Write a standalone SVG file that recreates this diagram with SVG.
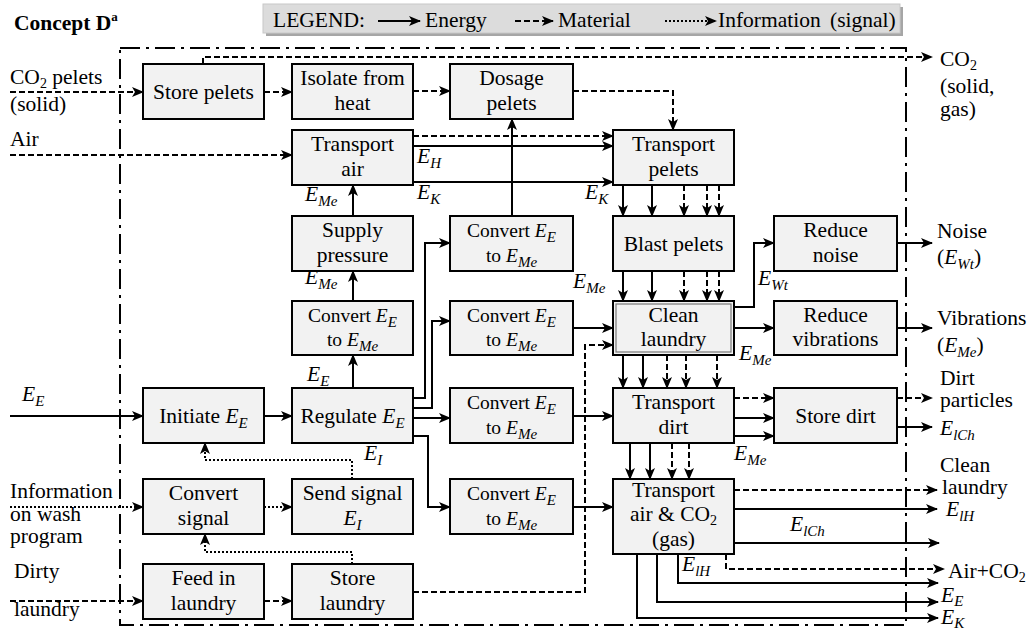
<svg xmlns="http://www.w3.org/2000/svg" width="1029" height="630" viewBox="0 0 1029 630" font-family="'Liberation Serif', serif">
<defs>
<style>
.box{fill:#f2f2f2;stroke:#000;stroke-width:2}
.t{font-size:21.5px;fill:#000}
.c{text-anchor:middle}
.cv{font-size:19.5px}
.m{font-style:italic}
.s{font-style:italic;font-size:15px}
.sb{font-size:14px}
.e{fill:none;stroke:#000;stroke-width:2;marker-end:url(#ah)}
.d{stroke-dasharray:6 3}
.i{stroke-dasharray:2 2}
.bd{fill:none;stroke:#000;stroke-width:2;stroke-dasharray:20 6 3 6}
</style>
<marker id="ah" markerUnits="userSpaceOnUse" markerWidth="14" markerHeight="12" refX="11" refY="5" orient="auto">
<path d="M0,0 L12,5 L0,10 L3,5 z" fill="#000" stroke="none"/>
</marker>
</defs>
<rect width="1029" height="630" fill="#fff"/>

<text class="t" x="14" y="30" font-weight="bold">Concept D<tspan font-size="13" dy="-9" font-weight="bold">a</tspan></text>
<g id="legend">
<rect x="266" y="7" width="637" height="29" fill="#a6a6a6"/>
<rect x="263" y="4" width="637" height="29" fill="#dcdcdc" stroke="#c8c8c8"/>
<text class="t" x="273" y="27">LEGEND:</text>
<path class="e" d="M378,21 H420"/>
<text class="t" x="425" y="27">Energy</text>
<path class="e d" d="M515,21 H553"/>
<text class="t" x="558" y="27">Material</text>
<path class="e i" d="M665,21 H716"/>
<text class="t" x="718" y="27" word-spacing="4">Information (signal)</text>
</g>

<rect class="bd" x="120" y="48" width="786" height="577"/>

<g id="connectors">
<path class="e d" d="M10,92 H143"/>
<path class="e d" d="M264,92 H292"/>
<path class="e d" d="M203,64 V57 H932"/>
<path class="e d" d="M413,91 H450"/>
<path class="e d" d="M573,91 H673 V130"/>
<path class="e d" d="M10,155 H292"/>
<path class="e d" d="M413,136 H613"/>
<path class="e d" d="M413,592 H585 V345 H613"/>
<path class="e d" d="M264,601 H292"/>
<path class="e d" d="M10,601 H143"/>
<path class="e d" d="M684,185 V216"/>
<path class="e d" d="M707,185 V216"/>
<path class="e d" d="M719,185 V216"/>
<path class="e d" d="M684,271 V301"/>
<path class="e d" d="M707,271 V301"/>
<path class="e d" d="M719,271 V301"/>
<path class="e d" d="M667,355 V388"/>
<path class="e d" d="M686,355 V388"/>
<path class="e d" d="M717,355 V388"/>
<path class="e d" d="M672,443 V479"/>
<path class="e d" d="M689,443 V479"/>
<path class="e d" d="M734,398 H774"/>
<path class="e d" d="M897,398 H932"/>
<path class="e d" d="M734,490 H937"/>
<path class="e d" d="M726,554 V569 H944"/>
<path class="e" d="M413,146 H613"/>
<path class="e" d="M413,182 H613"/>
<path class="e" d="M512,216 V119"/>
<path class="e" d="M623,185 V216"/>
<path class="e" d="M652,185 V216"/>
<path class="e" d="M623,271 V301"/>
<path class="e" d="M652,271 V301"/>
<path class="e" d="M734,307 H754 V243 H774"/>
<path class="e" d="M897,243 H932"/>
<path class="e" d="M734,328 H774"/>
<path class="e" d="M897,328 H932"/>
<path class="e" d="M623,355 V388"/>
<path class="e" d="M643,355 V388"/>
<path class="e" d="M734,418 H774"/>
<path class="e" d="M734,436 H774"/>
<path class="e" d="M897,427 H932"/>
<path class="e" d="M10,416 H143"/>
<path class="e" d="M264,416 H292"/>
<path class="e" d="M353,388 V355"/>
<path class="e" d="M353,301 V271"/>
<path class="e" d="M353,216 V185"/>
<path class="e" d="M413,398 H425 V243 H450"/>
<path class="e" d="M413,408 H432 V321 H450"/>
<path class="e" d="M413,418 H450"/>
<path class="e" d="M413,436 H428 V507 H450"/>
<path class="e" d="M573,328 H613"/>
<path class="e" d="M573,416 H613"/>
<path class="e" d="M573,507 H613"/>
<path class="e" d="M630,443 V479"/>
<path class="e" d="M650,443 V479"/>
<path class="e" d="M734,509 H937"/>
<path class="e" d="M734,543 H939"/>
<path class="e" d="M678,554 V583 H938"/>
<path class="e" d="M657,554 V602 H938"/>
<path class="e" d="M637,554 V618 H938"/>
<path class="e i" d="M10,507 H143"/>
<path class="e i" d="M264,507 H292"/>
<path class="e i" d="M352,479 V460 H205 V443"/>
<path class="e i" d="M352,564 V552 H205 V534"/>
</g>

<g id="labels" class="t">
<text x="10" y="84">CO<tspan class="sb" dy="4">2</tspan><tspan dy="-4"> pelets</tspan></text>
<text x="10" y="111">(solid)</text>
<text x="10" y="146">Air</text>
<text x="22" y="401"><tspan class="m">E</tspan><tspan class="s" dy="5">E</tspan></text>
<text x="10" y="498">Information</text>
<text x="10" y="521">on wash</text>
<text x="10" y="543">program</text>
<text x="14" y="578">Dirty</text>
<text x="14" y="616">laundry</text>
<text x="940" y="66">CO<tspan class="sb" dy="4">2</tspan></text>
<text x="940" y="93">(solid,</text>
<text x="940" y="116">gas)</text>
<text x="937" y="238">Noise</text>
<text x="937" y="264">(<tspan class="m">E</tspan><tspan class="s" dy="5">Wt</tspan><tspan dy="-5">)</tspan></text>
<text x="937" y="325">Vibrations</text>
<text x="937" y="352">(<tspan class="m">E</tspan><tspan class="s" dy="5">Me</tspan><tspan dy="-5">)</tspan></text>
<text x="940" y="385">Dirt</text>
<text x="940" y="407">particles</text>
<text x="940" y="435"><tspan class="m">E</tspan><tspan class="s" dy="5">lCh</tspan></text>
<text x="940" y="472">Clean</text>
<text x="942" y="494">laundry</text>
<text x="946" y="516"><tspan class="m">E</tspan><tspan class="s" dy="5">lH</tspan></text>
<text x="948" y="578">Air+CO<tspan class="sb" dy="4">2</tspan></text>
<text x="941" y="602"><tspan class="m">E</tspan><tspan class="s" dy="4">E</tspan></text>
<text x="941" y="624"><tspan class="m">E</tspan><tspan class="s" dy="4">K</tspan></text>
<text x="417" y="163"><tspan class="m">E</tspan><tspan class="s" dy="5">H</tspan></text>
<text x="417" y="199"><tspan class="m">E</tspan><tspan class="s" dy="5">K</tspan></text>
<text x="585" y="199"><tspan class="m">E</tspan><tspan class="s" dy="5">K</tspan></text>
<text x="305" y="201"><tspan class="m">E</tspan><tspan class="s" dy="5">Me</tspan></text>
<text x="305" y="284"><tspan class="m">E</tspan><tspan class="s" dy="5">Me</tspan></text>
<text x="307" y="381"><tspan class="m">E</tspan><tspan class="s" dy="5">E</tspan></text>
<text x="573" y="288"><tspan class="m">E</tspan><tspan class="s" dy="5">Me</tspan></text>
<text x="758" y="285"><tspan class="m">E</tspan><tspan class="s" dy="5">Wt</tspan></text>
<text x="739" y="360"><tspan class="m">E</tspan><tspan class="s" dy="5">Me</tspan></text>
<text x="734" y="460"><tspan class="m">E</tspan><tspan class="s" dy="5">Me</tspan></text>
<text x="364" y="460"><tspan class="m">E</tspan><tspan class="s" dy="5">I</tspan></text>
<text x="790" y="531"><tspan class="m">E</tspan><tspan class="s" dy="5">lCh</tspan></text>
<text x="682" y="571"><tspan class="m">E</tspan><tspan class="s" dy="5">lH</tspan></text>
</g>

<g id="store-pelets"><rect class="box" x="143" y="64" width="121" height="55"/><text class="t c" x="203.5" y="99">Store pelets</text></g>
<g id="isolate"><rect class="box" x="292" y="64" width="121" height="55"/><text class="t c" x="352.5" y="85">Isolate from</text><text class="t c" x="352.5" y="110">heat</text></g>
<g id="dosage"><rect class="box" x="450" y="64" width="123" height="55"/><text class="t c" x="511.5" y="85">Dosage</text><text class="t c" x="511.5" y="110">pelets</text></g>
<g id="transport-air"><rect class="box" x="292" y="130" width="121" height="55"/><text class="t c" x="352.5" y="151">Transport</text><text class="t c" x="352.5" y="176">air</text></g>
<g id="transport-pelets"><rect class="box" x="613" y="130" width="121" height="55"/><text class="t c" x="673.5" y="151">Transport</text><text class="t c" x="673.5" y="176">pelets</text></g>
<g id="supply-pressure"><rect class="box" x="292" y="216" width="121" height="55"/><text class="t c" x="352.5" y="237">Supply</text><text class="t c" x="352.5" y="262">pressure</text></g>
<g id="convert-1"><rect class="box" x="450" y="216" width="123" height="55"/><text class="t c cv" x="511.5" y="237">Convert <tspan class="m">E</tspan><tspan class="s" dy="5">E</tspan></text><text class="t c cv" x="511.5" y="262">to <tspan class="m">E</tspan><tspan class="s" dy="5">Me</tspan></text></g>
<g id="blast-pelets"><rect class="box" x="613" y="216" width="121" height="55"/><text class="t c" x="673.5" y="251">Blast pelets</text></g>
<g id="reduce-noise"><rect class="box" x="774" y="216" width="123" height="55"/><text class="t c" x="835.5" y="237">Reduce</text><text class="t c" x="835.5" y="262">noise</text></g>
<g id="convert-2"><rect class="box" x="292" y="301" width="121" height="54"/><text class="t c cv" x="352.5" y="322">Convert <tspan class="m">E</tspan><tspan class="s" dy="5">E</tspan></text><text class="t c cv" x="352.5" y="346">to <tspan class="m">E</tspan><tspan class="s" dy="5">Me</tspan></text></g>
<g id="convert-3"><rect class="box" x="450" y="301" width="123" height="54"/><text class="t c cv" x="511.5" y="322">Convert <tspan class="m">E</tspan><tspan class="s" dy="5">E</tspan></text><text class="t c cv" x="511.5" y="346">to <tspan class="m">E</tspan><tspan class="s" dy="5">Me</tspan></text></g>
<g id="clean-laundry"><rect class="box" x="613" y="301" width="121" height="54"/><rect x="616" y="304" width="115" height="48" fill="none" stroke="#777" stroke-width="1.2"/><text class="t c" x="673.5" y="322">Clean</text><text class="t c" x="673.5" y="346">laundry</text></g>
<g id="reduce-vibrations"><rect class="box" x="774" y="301" width="123" height="54"/><text class="t c" x="835.5" y="322">Reduce</text><text class="t c" x="835.5" y="346">vibrations</text></g>
<g id="initiate"><rect class="box" x="143" y="388" width="121" height="55"/><text class="t c" x="203.5" y="423">Initiate <tspan class="m">E</tspan><tspan class="s" dy="5">E</tspan></text></g>
<g id="regulate"><rect class="box" x="292" y="388" width="121" height="55"/><text class="t c" x="352.5" y="423">Regulate <tspan class="m">E</tspan><tspan class="s" dy="5">E</tspan></text></g>
<g id="convert-4"><rect class="box" x="450" y="388" width="123" height="55"/><text class="t c cv" x="511.5" y="409">Convert <tspan class="m">E</tspan><tspan class="s" dy="5">E</tspan></text><text class="t c cv" x="511.5" y="434">to <tspan class="m">E</tspan><tspan class="s" dy="5">Me</tspan></text></g>
<g id="transport-dirt"><rect class="box" x="613" y="388" width="121" height="55"/><text class="t c" x="673.5" y="409">Transport</text><text class="t c" x="673.5" y="434">dirt</text></g>
<g id="store-dirt"><rect class="box" x="774" y="388" width="123" height="55"/><text class="t c" x="835.5" y="423">Store dirt</text></g>
<g id="convert-signal"><rect class="box" x="143" y="479" width="121" height="55"/><text class="t c" x="203.5" y="500">Convert</text><text class="t c" x="203.5" y="525">signal</text></g>
<g id="send-signal"><rect class="box" x="292" y="479" width="121" height="55"/><text class="t c" x="352.5" y="500">Send signal</text><text class="t c" x="352.5" y="525"><tspan class="m">E</tspan><tspan class="s" dy="5">I</tspan></text></g>
<g id="convert-5"><rect class="box" x="450" y="479" width="123" height="55"/><text class="t c cv" x="511.5" y="500">Convert <tspan class="m">E</tspan><tspan class="s" dy="5">E</tspan></text><text class="t c cv" x="511.5" y="525">to <tspan class="m">E</tspan><tspan class="s" dy="5">Me</tspan></text></g>
<g id="transport-air-co2"><rect class="box" x="613" y="479" width="121" height="75"/><text class="t c" x="673.5" y="497">Transport</text><text class="t c" x="673.5" y="521">air &amp; CO<tspan class="sb" dy="4">2</tspan></text><text class="t c" x="673.5" y="546">(gas)</text></g>
<g id="feed-laundry"><rect class="box" x="143" y="564" width="121" height="55"/><text class="t c" x="203.5" y="585">Feed in</text><text class="t c" x="203.5" y="610">laundry</text></g>
<g id="store-laundry"><rect class="box" x="292" y="564" width="121" height="55"/><text class="t c" x="352.5" y="585">Store</text><text class="t c" x="352.5" y="610">laundry</text></g>
</svg>
